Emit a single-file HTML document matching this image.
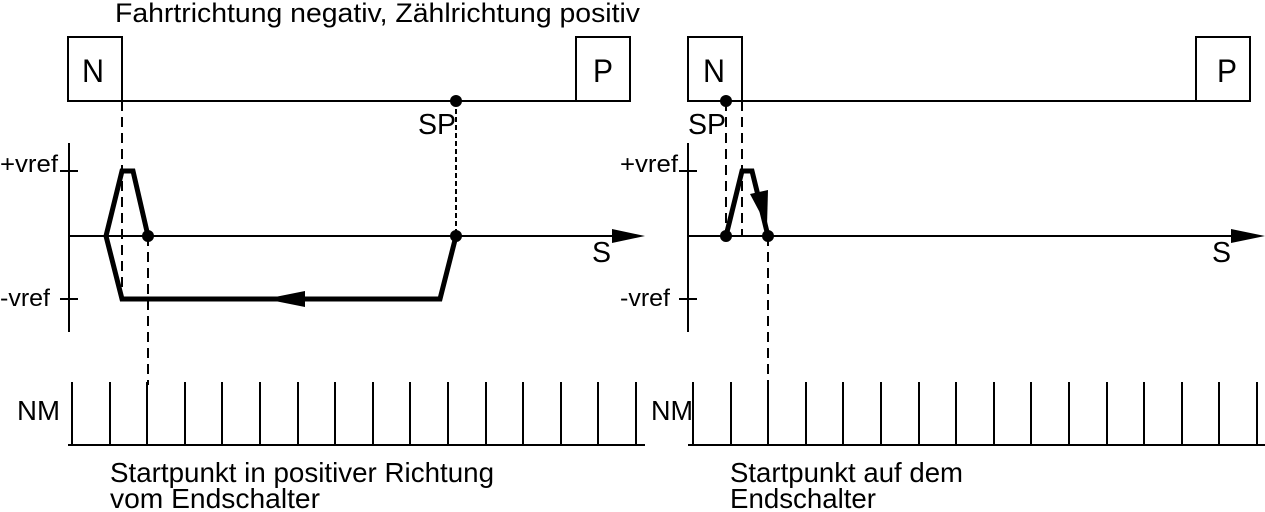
<!DOCTYPE html>
<html><head><meta charset="utf-8"><style>
html,body{margin:0;padding:0;background:#fff;}
svg{display:block;font-family:"Liberation Sans",sans-serif;}
</style></head><body>
<svg width="1265" height="512" viewBox="0 0 1265 512" xmlns="http://www.w3.org/2000/svg">
<text x="115" y="22" font-size="27" textLength="525" lengthAdjust="spacingAndGlyphs">Fahrtrichtung negativ, Zählrichtung  positiv</text>

<!-- LEFT PANEL -->
<g fill="none" stroke="#000" stroke-width="2">
<rect x="68" y="37" width="54" height="64"/>
<rect x="576" y="37" width="54" height="64"/>
<line x1="68" y1="101" x2="630" y2="101"/>
<line x1="69" y1="143" x2="69" y2="332"/>
<line x1="60" y1="171" x2="78" y2="171"/>
<line x1="60" y1="299" x2="78" y2="299"/>
<line x1="69" y1="236" x2="615" y2="236"/>
</g>
<polygon points="612,229 645,236 612,243" fill="#000"/>
<polyline points="148,236 133,171 122,171 106,236 122,299 440,299 456,236" fill="none" stroke="#000" stroke-width="5"/>
<polygon points="305,291 265,299 305,307" fill="#000"/>
<g stroke="#000" stroke-width="2" stroke-dasharray="10,6" fill="none">
<line x1="122" y1="101" x2="122" y2="299"/>
<line x1="148" y1="236" x2="148" y2="385"/>
</g>
<line x1="456" y1="101" x2="456" y2="236" stroke="#000" stroke-width="2" stroke-dasharray="5,3"/>
<circle cx="456" cy="101" r="6"/><circle cx="456" cy="236" r="6"/><circle cx="148" cy="236" r="6"/>
<text x="82" y="82" font-size="32" textLength="22" lengthAdjust="spacingAndGlyphs">N</text>
<text x="593" y="82" font-size="32" textLength="20" lengthAdjust="spacingAndGlyphs">P</text>
<text x="418" y="134" font-size="29" textLength="38" lengthAdjust="spacingAndGlyphs">SP</text>
<text x="0" y="172" font-size="24" textLength="58" lengthAdjust="spacingAndGlyphs">+vref</text>
<text x="0" y="306" font-size="24" textLength="50" lengthAdjust="spacingAndGlyphs">-vref</text>
<text x="592" y="262" font-size="29" textLength="19" lengthAdjust="spacingAndGlyphs">S</text>
<text x="17" y="420" font-size="28" textLength="43" lengthAdjust="spacingAndGlyphs">NM</text>
<g stroke="#000" stroke-width="2">
<line x1="68" y1="445" x2="645" y2="445"/>
<line x1="72" y1="382" x2="72" y2="445"/><line x1="110" y1="382" x2="110" y2="445"/><line x1="147" y1="382" x2="147" y2="445"/><line x1="185" y1="382" x2="185" y2="445"/><line x1="222" y1="382" x2="222" y2="445"/><line x1="260" y1="382" x2="260" y2="445"/><line x1="298" y1="382" x2="298" y2="445"/><line x1="335" y1="382" x2="335" y2="445"/><line x1="373" y1="382" x2="373" y2="445"/><line x1="410" y1="382" x2="410" y2="445"/><line x1="448" y1="382" x2="448" y2="445"/><line x1="486" y1="382" x2="486" y2="445"/><line x1="523" y1="382" x2="523" y2="445"/><line x1="561" y1="382" x2="561" y2="445"/><line x1="598" y1="382" x2="598" y2="445"/><line x1="636" y1="382" x2="636" y2="445"/>
</g>
<text x="110" y="482" font-size="28" textLength="384" lengthAdjust="spacingAndGlyphs">Startpunkt in positiver Richtung</text>
<text x="110" y="508" font-size="28" textLength="210" lengthAdjust="spacingAndGlyphs">vom Endschalter</text>

<!-- RIGHT PANEL -->
<g fill="none" stroke="#000" stroke-width="2">
<rect x="688" y="37" width="54" height="64"/>
<rect x="1196" y="37" width="54" height="64"/>
<line x1="688" y1="101" x2="1250" y2="101"/>
<line x1="688" y1="143" x2="688" y2="332"/>
<line x1="679" y1="171" x2="697" y2="171"/>
<line x1="679" y1="299" x2="697" y2="299"/>
<line x1="688" y1="236" x2="1235" y2="236"/>
</g>
<polygon points="1231,229 1265,236 1231,243" fill="#000"/>
<polyline points="726,236 742,171 752,171 768,236" fill="none" stroke="#000" stroke-width="5"/>
<polygon points="750,194 768,190 767,226" fill="#000"/>
<g stroke="#000" stroke-width="2" stroke-dasharray="10,6" fill="none">
<line x1="726" y1="101" x2="726" y2="236"/>
<line x1="742" y1="101" x2="742" y2="236"/>
<line x1="768" y1="236" x2="768" y2="385"/>
</g>
<circle cx="726" cy="101" r="6"/><circle cx="726" cy="236" r="6"/><circle cx="768" cy="236" r="6"/>
<text x="703" y="82" font-size="32" textLength="22" lengthAdjust="spacingAndGlyphs">N</text>
<text x="1217" y="82" font-size="32" textLength="20" lengthAdjust="spacingAndGlyphs">P</text>
<text x="688" y="134" font-size="29" textLength="38" lengthAdjust="spacingAndGlyphs">SP</text>
<text x="620" y="172" font-size="24" textLength="58" lengthAdjust="spacingAndGlyphs">+vref</text>
<text x="620" y="306" font-size="24" textLength="50" lengthAdjust="spacingAndGlyphs">-vref</text>
<text x="1212" y="262" font-size="29" textLength="19" lengthAdjust="spacingAndGlyphs">S</text>
<text x="651" y="420" font-size="28" textLength="42" lengthAdjust="spacingAndGlyphs">NM</text>
<g stroke="#000" stroke-width="2">
<line x1="688" y1="445" x2="1265" y2="445"/>
<line x1="693" y1="382" x2="693" y2="445"/><line x1="731" y1="382" x2="731" y2="445"/><line x1="768" y1="382" x2="768" y2="445"/><line x1="806" y1="382" x2="806" y2="445"/><line x1="843" y1="382" x2="843" y2="445"/><line x1="881" y1="382" x2="881" y2="445"/><line x1="919" y1="382" x2="919" y2="445"/><line x1="956" y1="382" x2="956" y2="445"/><line x1="994" y1="382" x2="994" y2="445"/><line x1="1031" y1="382" x2="1031" y2="445"/><line x1="1069" y1="382" x2="1069" y2="445"/><line x1="1107" y1="382" x2="1107" y2="445"/><line x1="1144" y1="382" x2="1144" y2="445"/><line x1="1182" y1="382" x2="1182" y2="445"/><line x1="1219" y1="382" x2="1219" y2="445"/><line x1="1257" y1="382" x2="1257" y2="445"/>
</g>
<text x="730" y="482" font-size="28" textLength="233" lengthAdjust="spacingAndGlyphs">Startpunkt auf dem</text>
<text x="730" y="508" font-size="28" textLength="146" lengthAdjust="spacingAndGlyphs">Endschalter</text>
</svg>
</body></html>
